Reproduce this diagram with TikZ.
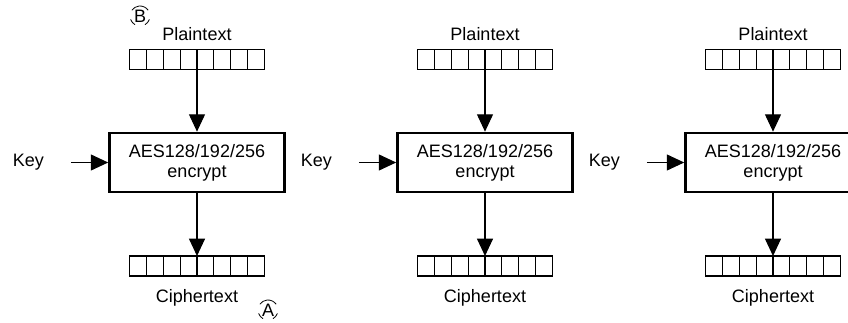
\documentclass[tikz,border=0pt]{standalone}
\usepackage{fontspec}
\setmainfont{Liberation Sans}
\usetikzlibrary{positioning,arrows.meta,calc}

\begin{document}
\begin{tikzpicture}[x=0.75pt,y=0.75pt,
    every node/.style={font=\fontsize{13.5}{15}\selectfont, inner sep=0pt},
    enc/.style={draw=black, line width=2pt, minimum width=131.25pt, minimum height=44.25pt, align=center},
    reg/.style={draw=black, line width=0.8pt, outer sep=0pt, minimum width=101.25pt, minimum height=15pt},
    cell/.style={draw=black, line width=0.8pt},
    flow/.style={line width=0.8pt, -{Triangle[length=13pt,width=12pt]}},
    callout/.style={line width=0.6pt}]

    % Set frame
    \useasboundingbox (0,0) rectangle (848,322);
    \clip (0,0) rectangle (848,322);

    % First block
    \node[enc] (enc1) at (197,159.5) {AES128/192/256\\encrypt};
    \node[reg, above=46.5pt of enc1] (plain1) {};
    \node[above=6.75pt of plain1] (ptext1) {Plaintext};
    \node[reg, below=47pt of enc1] (cipher1) {};
    \node[below=10pt of cipher1] (ctext1) {Ciphertext};
    \node[left=48pt of enc1] (key1) {Key};

    % Second block
    \node[enc] (enc2) at (485,159.5) {AES128/192/256\\encrypt};
    \node[reg, above=46.5pt of enc2] (plain2) {};
    \node[above=6.75pt of plain2] (ptext2) {Plaintext};
    \node[reg, below=47pt of enc2] (cipher2) {};
    \node[below=10pt of cipher2] (ctext2) {Ciphertext};
    \node[left=48pt of enc2] (key2) {Key};

    % Third block
    \node[enc] (enc3) at (773,159.5) {AES128/192/256\\encrypt};
    \node[reg, above=46.5pt of enc3] (plain3) {};
    \node[above=6.75pt of plain3] (ptext3) {Plaintext};
    \node[reg, below=47pt of enc3] (cipher3) {};
    \node[below=10pt of cipher3] (ctext3) {Ciphertext};
    \node[left=48pt of enc3] (key3) {Key};

    % Register cells
    \foreach \r in {plain1,plain2,plain3,cipher1,cipher2,cipher3} {
      \foreach \j in {1,...,7}
        \draw[cell] ($(\r.north west)!\j/8!(\r.north east)$) -- ($(\r.south west)!\j/8!(\r.south east)$);
    }

    % Draw arrows
    \draw[flow] (plain1.south) -- (enc1.north);
    \draw[flow] (enc1.south) -- (cipher1.north);
    \draw[flow, shorten <=20pt] (key1.east) -- (enc1.west);
    \draw[flow] (plain2.south) -- (enc2.north);
    \draw[flow] (enc2.south) -- (cipher2.north);
    \draw[flow, shorten <=20pt] (key2.east) -- (enc2.west);
    \draw[flow] (plain3.south) -- (enc3.north);
    \draw[flow] (enc3.south) -- (cipher3.north);
    \draw[flow, shorten <=20pt] (key3.east) -- (enc3.west);

    % Add marks
    \node[font=\fontsize{13.5}{15}\selectfont] (markB) at (140,306) {B};
    \draw[callout] (markB.center) ++(35:7.5pt) arc (35:145:7.5pt);
    \draw[callout] (markB.center) ++(200:7.5pt) arc (200:240:7.5pt);
    \draw[callout] (markB.center) ++(300:7.5pt) arc (300:340:7.5pt);
    \node[font=\fontsize{13.5}{15}\selectfont] (markA) at (268,12) {A};
    \draw[callout] (markA.center) ++(35:7.5pt) arc (35:145:7.5pt);
    \draw[callout] (markA.center) ++(200:7.5pt) arc (200:240:7.5pt);
    \draw[callout] (markA.center) ++(300:7.5pt) arc (300:340:7.5pt);
  \end{tikzpicture}
\end{document}
